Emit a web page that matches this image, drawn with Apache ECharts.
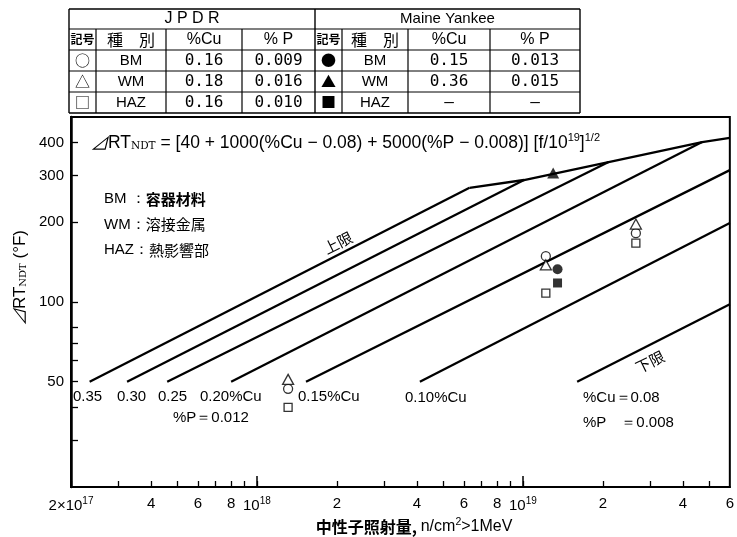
<!DOCTYPE html>
<html><head><meta charset="utf-8">
<script src="https://cdn.jsdelivr.net/npm/echarts@6/dist/echarts.min.js"></script>
<style>html,body{margin:0;padding:0;background:#fff}#c{width:737px;height:537px}</style>
</head><body><div id="c"></div>
<script>
// ---------------- data ----------------
const xTickValues = [2e17,3e17,4e17,5e17,6e17,7e17,8e17,9e17,1e18,2e18,3e18,4e18,5e18,6e18,7e18,8e18,9e18,1e19,2e19,3e19,4e19,5e19];
const xMajorTickValues = [1e18,1e19];
const xLabelValues = [2e17,4e17,6e17,8e17,1e18,2e18,4e18,6e18,8e18,1e19,2e19,4e19,6e19];
const xLabelTexts = ['2×10^17','4','6','8','10^18','2','4','6','8','10^19','2','4','6'];
const yTickValues = [30,40,50,60,70,80,100,200,300,400];
const yLabelValues = [50,100,200,300,400];
const xRange = [2e17, 6e19];
const yRange = [20, 500];

// trend lines  [fluence n/cm2, dRT_NDT (F)]
const lineCu035 = [[2.35e17,50],[6.3e18,270]];
const lineCu030 = [[3.25e17,50],[1.01e19,289]];
const lineCu025 = [[4.6e17,50],[2.1e19,338]];
const lineCu020 = [[8.0e17,50],[4.72e19,402]];
const lineCu015 = [[1.53e18,50],[6e19,315]];
const lineCu010 = [[4.1e18,50],[6e19,199]];
const lineLower = [[1.6e19,50],[6e19,98]];
const upperEnvelope = [[6.3e18,270],[1.01e19,289],[2.1e19,338],[4.72e19,402],[6e19,417]];

// measured points
const jpdrBM  = [[1.31e18,47],[1.22e19,149],[2.66e19,182]];
const jpdrWM  = [[1.31e18,51],[1.22e19,138],[2.66e19,197]];
const jpdrHAZ = [[1.31e18,40],[1.22e19,108],[2.66e19,167]];
const myBM  = [[1.35e19,133]];
const myWM  = [[1.30e19,307]];
const myHAZ = [[1.35e19,118]];

// table
const tableGroups = ['J P D R','Maine Yankee'];
const tableHeads = ['記号','種　別','%Cu','% P'];
const jpdrSym = ['○','△','□'];
const jpdrType = ['BM','WM','HAZ'];
const jpdrCu = ['0.16','0.18','0.16'];
const jpdrP = ['0.009','0.016','0.010'];
const mySym = ['●','▲','■'];
const myType = ['BM','WM','HAZ'];
const myCu = ['0.15','0.36','—'];
const myP = ['0.013','0.015','—'];

// annotations
const legendLines = [['BM ：','容器材料'],['WM：','溶接金属'],['HAZ：','熱影響部']];
const lineLabels = ['0.35','0.30','0.25','0.20%Cu','%P＝0.012','0.15%Cu','0.10%Cu','%Cu＝0.08','%P　＝0.008'];
const upperLabel = '上限', lowerLabel = '下限';
const xTitle = '中性子照射量, n/cm^2>1MeV';

// ---------------- chart ----------------
const L = Math.log10;
const tr = d => d.map(p => [L(p[0]), L(p[1])]);
const chart = echarts.init(document.getElementById('c'), null, {renderer:'canvas'});
const SANS = '"Liberation Sans", Arial, sans-serif';
const JP = '"Noto Sans CJK JP", sans-serif';
const MONO = '"DejaVu Sans Mono", monospace';

function richSup(s){ return s.replace(/\^(\S+)$/, '{sup|$1}'); }

const lineSeries = (data, name) => ({
  type:'line', name, data: tr(data), symbol:'none', silent:true, animation:false,
  lineStyle:{color:'#000', width:2.3}, z:2
});
const scat = (data, symbol, size, filled) => ({
  type:'scatter', data: tr(data), symbol, symbolSize:size, animation:false, z:5,
  itemStyle:{color: filled ? '#000' : '#fff', borderColor:'#000', borderWidth: filled?0:1.3}
});

// graphic elements
const G = [];
function gline(x1,y1,x2,y2,w){ G.push({type:'line', silent:true, shape:{x1,y1,x2,y2}, style:{stroke:'#000', lineWidth:w||1.2}}); }
function gtext(x,y,text,opt){
  opt = opt||{};
  G.push({type:'text', x, y, rotation: opt.rot||0, silent:true, z:10,
    style:Object.assign({text, fill:'#000', fontSize:opt.size||14, fontFamily:opt.font||SANS,
      fontWeight:opt.weight||'normal', align:opt.align||'center', verticalAlign:'middle',
      textAlign:opt.align||'center', textVerticalAlign:'middle'}, opt.rich?{rich:opt.rich}:{})});
}

// table geometry
const tx = [69,96,166,242,315,342,408,490,580];
const ty = [9,29,50,71,92,113];
gline(tx[0],ty[0],tx[8],ty[0],1.4);
gline(tx[0],ty[1],tx[8],ty[1],1.2);
gline(tx[0],ty[2],tx[8],ty[2],1.2);
gline(tx[0],ty[3],tx[8],ty[3],1);
gline(tx[0],ty[4],tx[8],ty[4],1);
gline(tx[0],ty[5],tx[8],ty[5],1.4);
gline(tx[0],ty[0],tx[0],ty[5],1.4);
gline(tx[8],ty[0],tx[8],ty[5],1.4);
gline(tx[4],ty[0],tx[4],ty[5],1.4);
[1,2,3,5,6,7].forEach(i=>gline(tx[i],ty[1],tx[i],ty[5],1.2));
const cy = i => (ty[i]+ty[i+1])/2;
gtext((tx[0]+tx[4])/2, cy(0), tableGroups[0], {size:16});
gtext((tx[4]+tx[8])/2, cy(0), tableGroups[1], {size:15});
[0,4].forEach(o=>{
  tableHeads.forEach((h,j)=>{
    gtext((tx[o+j]+tx[o+j+1])/2, cy(1), h, {size: j===0?12:16, font: j<2?JP:SANS, weight: j===0?'bold':'normal'});
  });
});
const tableBlocks = [[jpdrSym,jpdrType,jpdrCu,jpdrP,0],[mySym,myType,myCu,myP,4]];
tableBlocks.forEach(([s,t,c,p,o])=>{
  for(let r=0;r<3;r++){
    gtext((tx[o]+tx[o+1])/2, cy(r+2), s[r], {size:15, font:JP});
    gtext((tx[o+1]+tx[o+2])/2, cy(r+2), t[r], {size:15});
    gtext((tx[o+2]+tx[o+3])/2, cy(r+2), c[r], {size:16, font:MONO});
    gtext((tx[o+3]+tx[o+4])/2, cy(r+2), p[r], {size:16, font:MONO});
  }
});

// formula
gtext(90, 143, '{d|⊿}{n|RT}{sub|NDT}{n| = [40 + 1000(%Cu − 0.08) + 5000(%P − 0.008)] [f/10}{sup|19}{n|]}{sup|1/2}', {
  align:'left', rich:{
    d:{fontSize:18,fontFamily:JP,fontStyle:'italic'},
    n:{fontSize:17.5,fontFamily:SANS},
    sub:{fontSize:10.5,fontFamily:'"DejaVu Serif", serif',padding:[7,0,0,0]},
    sup:{fontSize:11,fontFamily:SANS,padding:[0,0,10,0]}
  }});

// legend (material names)
legendLines.forEach((l,i)=>{
  gtext(104, 199+i*25.5, '{a|'+l[0]+'}{b|'+l[1]+'}', {align:'left', rich:{
    a:{fontSize:15,fontFamily:SANS},
    b:{fontSize:15,fontFamily:JP,fontWeight: i===0?'bold':'normal'}
  }});
});

// line labels
const lp = [[73,397],[117,397],[158,397],[200,397],[173,418],[298,397],[405,398],[583,398],[583,423]];
lineLabels.forEach((t,i)=> gtext(lp[i][0], lp[i][1], t, {align:'left', size:15}));
const ang = Math.atan(0.494);
gtext(338, 243, upperLabel, {size:15, font:JP, rot:ang});
gtext(650, 362, lowerLabel, {size:15, font:JP, rot:ang});

// axis titles
gtext(20, 278, '{d|⊿}{n|RT}{sub|NDT}{n| (°F)}', {rot:Math.PI/2, rich:{
  d:{fontSize:17,fontFamily:JP,fontStyle:'italic'},
  n:{fontSize:17,fontFamily:SANS},
  sub:{fontSize:10,fontFamily:'"DejaVu Serif", serif',padding:[7,0,0,0]}
}});
const xt = xTitle.split('^');
gtext(414, 527, '{j|中性子照射量,} {n|'+xt[0].replace('中性子照射量, ','')+'}{s|'+xt[1].charAt(0)+'}{n|'+xt[1].slice(1)+'}', {rich:{
  j:{fontSize:16,fontFamily:JP,fontWeight:'bold'},
  n:{fontSize:16,fontFamily:SANS},
  s:{fontSize:10.5,fontFamily:SANS,padding:[0,0,9,0]}
}});

const option = {
  animation:false,
  backgroundColor:'#fff',
  grid:{left:71, right:2, top:117, bottom:50, show:true, borderColor:'#000', borderWidth:2, backgroundColor:'transparent'},
  xAxis:[{
    type:'value', min:L(xRange[0]), max:L(xRange[1]),
    axisLine:{lineStyle:{color:'#000', width:2}},
    splitLine:{show:false},
    axisTick:{inside:true, length:6, lineStyle:{color:'#000', width:1.3}, customValues: xTickValues.map(L)},
    axisLabel:{customValues: xLabelValues.map(L), margin:9, color:'#000', fontSize:15, fontFamily:SANS,
      rich:{sup:{fontSize:10, fontFamily:SANS, padding:[0,0,10,0]}},
      formatter: v => { let k=0, b=1e9; xLabelValues.forEach((xv,i)=>{const d=Math.abs(L(xv)-v); if(d<b){b=d;k=i;}}); return richSup(xLabelTexts[k]); }
    }
  },{
    type:'value', min:L(xRange[0]), max:L(xRange[1]), position:'bottom',
    axisLine:{show:false}, splitLine:{show:false}, axisLabel:{show:false},
    axisTick:{inside:true, length:11, lineStyle:{color:'#000', width:1.5}, customValues: xMajorTickValues.map(L)}
  }],
  yAxis:{
    type:'value', min:L(yRange[0]), max:L(yRange[1]),
    axisLine:{show:true, lineStyle:{color:'#000', width:2.5}},
    splitLine:{show:false},
    axisTick:{show:true, inside:true, length:7, lineStyle:{color:'#000', width:1.3}, customValues: yTickValues.map(L)},
    axisLabel:{customValues: yLabelValues.map(L), margin:7, color:'#000', fontSize:15, fontFamily:SANS,
      formatter: v => { let k=0,b=1e9; yLabelValues.forEach((yv,i)=>{const d=Math.abs(L(yv)-v); if(d<b){b=d;k=i;}}); return String(yLabelValues[k]); }
    }
  },
  series:[
    lineSeries(lineCu035,'0.35'), lineSeries(lineCu030,'0.30'), lineSeries(lineCu025,'0.25'),
    lineSeries(lineCu020,'0.20'), lineSeries(lineCu015,'0.15'), lineSeries(lineCu010,'0.10'),
    lineSeries(lineLower,'lower'), lineSeries(upperEnvelope,'upper'),
    scat(jpdrBM,'circle',9,false), scat(jpdrWM,'triangle',[11,10],false), scat(jpdrHAZ,'rect',8,false),
    scat(myBM,'circle',10,true), scat(myWM,'triangle',[12,11],true), scat(myHAZ,'rect',9,true)
  ],
  graphic:{elements:G}
};
chart.setOption(option);
</script></body></html>
